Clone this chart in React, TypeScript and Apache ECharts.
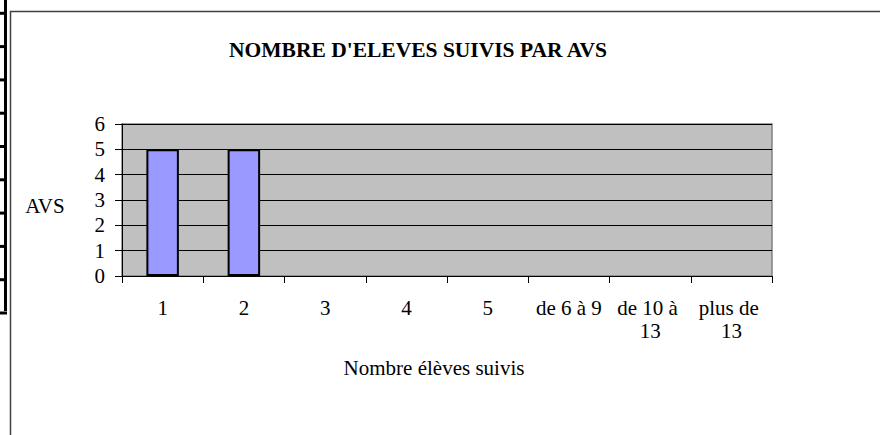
import React, { useEffect, useRef } from "react";
import * as echarts from "echarts";

const chartTitle = "NOMBRE D'ELEVES SUIVIS PAR AVS";
const xAxisTitle = "Nombre élèves suivis";
const yAxisTitle = "AVS";
const categories = ["1", "2", "3", "4", "5", "de 6 à 9", "de 10 à 13", "plus de 13"];
const avsCounts = [5, 5, 0, 0, 0, 0, 0, 0];
const yMin = 0;
const yMax = 6;
const yInterval = 1;

const FONT = "Liberation Serif";

export default function App() {
  const ref = useRef<HTMLDivElement>(null);

  useEffect(() => {
    if (!ref.current) return;
    const chart = echarts.init(ref.current, null, { renderer: "svg" });

    const decoMarks: any[] = [];
    for (let k = 0; k <= 9; k++) {
      const y = 13.3 + k * 33.3;
      decoMarks.push({
        type: "line",
        silent: true,
        shape: { x1: 0, y1: y, x2: 7, y2: y },
        style: { stroke: "#000", lineWidth: 3 },
      });
    }

    const barData = avsCounts.map((v) =>
      v === 0 ? { value: v, itemStyle: { borderWidth: 0 } } : v
    );

    chart.setOption({
      animation: false,
      backgroundColor: "#ffffff",
      textStyle: { fontFamily: FONT },
      grid: {
        left: 122,
        top: 124,
        width: 650,
        height: 152,
        show: true,
        backgroundColor: "#c0c0c0",
        borderColor: "#808080",
        borderWidth: 1.5,
        containLabel: false,
      },
      xAxis: {
        type: "category",
        data: categories,
        boundaryGap: true,
        axisLine: { show: true, lineStyle: { color: "#000", width: 1 } },
        axisTick: { show: true, length: 7, lineStyle: { color: "#000", width: 1 } },
        axisLabel: {
          color: "#000",
          fontFamily: FONT,
          fontSize: 21,
          lineHeight: 23,
          margin: 20,
          interval: 0,
          width: 78,
          overflow: "break",
          align: "center",
        },
      },
      yAxis: {
        type: "value",
        min: yMin,
        max: yMax,
        interval: yInterval,
        axisLine: { show: true, lineStyle: { color: "#000", width: 1 } },
        axisTick: { show: true, length: 7, lineStyle: { color: "#000", width: 1 } },
        axisLabel: { color: "#000", fontFamily: FONT, fontSize: 21, margin: 17 },
        splitLine: { show: true, lineStyle: { color: "#000", width: 1 } },
      },
      series: [
        {
          type: "bar",
          data: barData,
          barWidth: "40%",
          itemStyle: { color: "#9999ff", borderColor: "#000", borderWidth: 2 },
        },
      ],
      graphic: [
        {
          type: "rect",
          z: -10,
          silent: true,
          shape: { x: 10.5, y: 11.5, width: 1000, height: 1000 },
          style: { fill: "none", stroke: "#404040", lineWidth: 1.5 },
        },
        {
          type: "line",
          silent: true,
          shape: { x1: 5.5, y1: 0, x2: 5.5, y2: 311 },
          style: { stroke: "#000", lineWidth: 3 },
        },
        ...decoMarks,
        {
          type: "text",
          x: 418,
          y: 50,
          style: {
            text: chartTitle,
            fontFamily: FONT,
            fontSize: 21.5,
            fontWeight: "bold",
            fill: "#000",
            textAlign: "center",
            textVerticalAlign: "middle",
          },
        },
        {
          type: "text",
          x: 434,
          y: 368,
          style: {
            text: xAxisTitle,
            fontFamily: FONT,
            fontSize: 21,
            fill: "#000",
            textAlign: "center",
            textVerticalAlign: "middle",
          },
        },
        {
          type: "text",
          x: 45,
          y: 206,
          style: {
            text: yAxisTitle,
            fontFamily: FONT,
            fontSize: 21,
            fill: "#000",
            textAlign: "center",
            textVerticalAlign: "middle",
          },
        },
      ],
    });

    return () => chart.dispose();
  }, []);

  return (
    <div
      ref={ref}
      style={{ position: "absolute", left: 0, top: 0, width: 880, height: 435 }}
    />
  );
}
